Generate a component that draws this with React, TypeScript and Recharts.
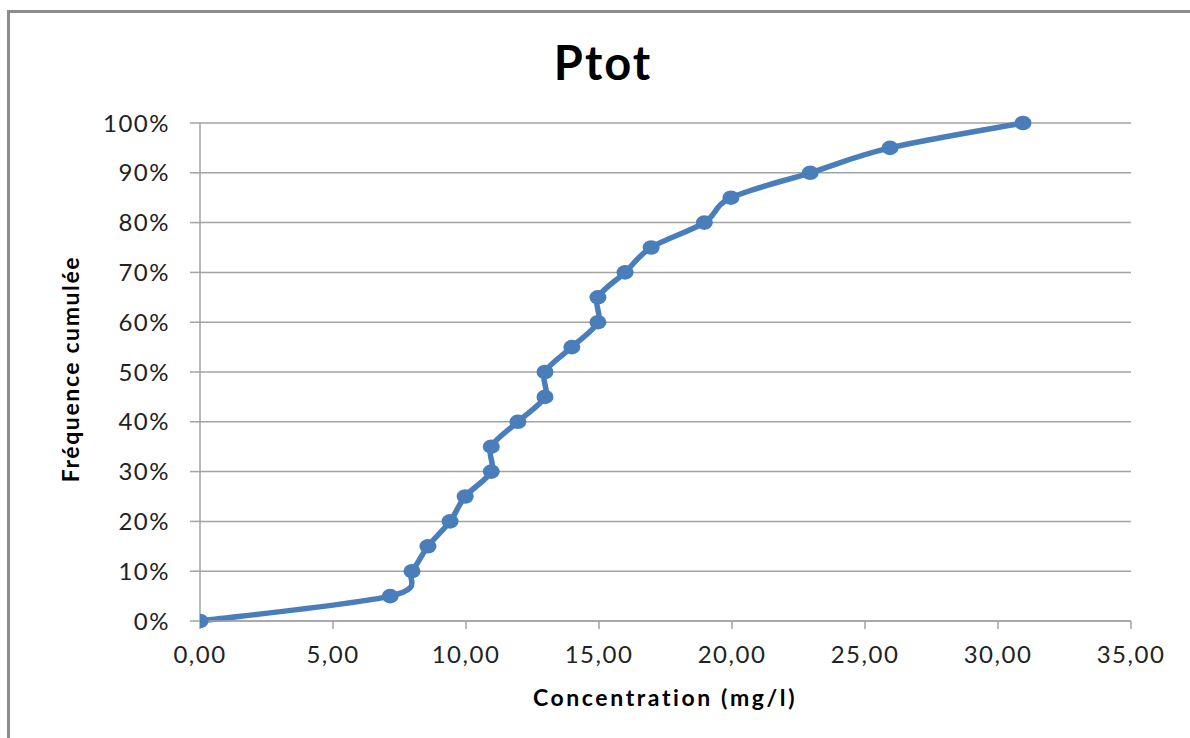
import React from "react";
import { LineChart, Line, XAxis, YAxis, CartesianGrid } from "recharts";

// Cumulative frequency of total phosphorus concentrations
const concentration = [
  0, 7.15, 7.97, 8.57, 9.4, 9.97, 10.95, 10.95, 11.95, 12.97, 12.97, 13.98,
  14.96, 14.96, 15.98, 16.96, 18.96, 19.96, 22.94, 25.94, 30.94,
];
const frequency = [
  0, 0.05, 0.1, 0.15, 0.2, 0.25, 0.3, 0.35, 0.4, 0.45, 0.5, 0.55, 0.6, 0.65,
  0.7, 0.75, 0.8, 0.85, 0.9, 0.95, 1.0,
];
const xTicks = [0, 5, 10, 15, 20, 25, 30, 35];
const yTicks = [0, 0.1, 0.2, 0.3, 0.4, 0.5, 0.6, 0.7, 0.8, 0.9, 1.0];

const data = concentration.map((c, i) => ({ c, f: frequency[i] }));

const FONT = "Lato, 'Open Sans', sans-serif";
const BLUE = "#4a7ebb";
const GRID = "#a3a3a3";

const fmtX = (v: number) => v.toFixed(2).replace(".", ",");
const fmtY = (v: number) => `${Math.round(v * 100)}%`;

// Smoothed line through every point (uniform Catmull-Rom as cubic Béziers)
function smoothCurve(context: any) {
  let pts: [number, number][] = [];
  return {
    areaStart() {},
    areaEnd() {},
    lineStart() {
      pts = [];
    },
    point(x: number, y: number) {
      pts.push([+x, +y]);
    },
    lineEnd() {
      const n = pts.length;
      if (!n) return;
      context.moveTo(pts[0][0], pts[0][1]);
      for (let i = 0; i < n - 1; i++) {
        const p0 = pts[i - 1] || pts[i];
        const p1 = pts[i];
        const p2 = pts[i + 1];
        const p3 = pts[i + 2] || pts[i + 1];
        const c1x = p1[0] + (p2[0] - p0[0]) / 6;
        const c1y = p1[1] + (p2[1] - p0[1]) / 6;
        const c2x = p2[0] - (p3[0] - p1[0]) / 6;
        const c2y = p2[1] - (p3[1] - p1[1]) / 6;
        context.bezierCurveTo(c1x, c1y, c2x, c2y, p2[0], p2[1]);
      }
    },
  };
}

// Slightly wide oval markers
const OvalDot = (props: any) => {
  const { cx, cy, index } = props;
  if (cx == null || cy == null) return null;
  return <ellipse key={`dot-${index}`} cx={cx} cy={cy} rx={8.5} ry={7.3} fill={BLUE} />;
};

export default function App() {
  return (
    <div
      style={{
        position: "absolute",
        left: 0,
        top: 0,
        width: 1190,
        height: 738,
        background: "#fff",
        overflow: "hidden",
        fontFamily: FONT,
      }}
    >
      <div
        style={{
          position: "absolute",
          left: 7,
          top: 10,
          right: -10,
          bottom: -10,
          borderTop: "3px solid #8c8c8c",
          borderLeft: "3px solid #8c8c8c",
        }}
      />
      <div
        style={{
          position: "absolute",
          left: 603,
          top: 62,
          transform: "translate(-50%, -50%)",
          fontSize: 47,
          fontWeight: 700,
          lineHeight: 1,
          letterSpacing: 2,
          color: "#000",
          whiteSpace: "nowrap",
        }}
      >
        Ptot
      </div>
      <div
        style={{
          position: "absolute",
          left: 665,
          top: 697,
          transform: "translate(-50%, -50%)",
          fontSize: 23,
          fontWeight: 700,
          lineHeight: 1,
          letterSpacing: 2.6,
          color: "#000",
          whiteSpace: "nowrap",
        }}
      >
        Concentration (mg/l)
      </div>
      <div
        style={{
          position: "absolute",
          left: 70,
          top: 369,
          transform: "translate(-50%, -50%) rotate(-90deg)",
          fontSize: 23,
          fontWeight: 700,
          lineHeight: 1,
          letterSpacing: 1.6,
          color: "#000",
          whiteSpace: "nowrap",
        }}
      >
        Fréquence cumulée
      </div>
      <div style={{ position: "absolute", left: 0, top: 0 }}>
        <LineChart
          width={1190}
          height={738}
          data={data}
          margin={{ top: 123, right: 59, bottom: 0, left: 0 }}
        >
          <CartesianGrid vertical={false} stroke={GRID} strokeWidth={1.5} />
          <XAxis
            dataKey="c"
            type="number"
            domain={[0, 35]}
            ticks={xTicks}
            tickFormatter={fmtX}
            height={117}
            tickSize={8}
            tickMargin={17}
            stroke={GRID}
            strokeWidth={1.5}
            interval={0}
            tick={{ fill: "#222", fontSize: 24, fontFamily: FONT, letterSpacing: 1.5 }}
            allowDataOverflow
          />
          <YAxis
            type="number"
            domain={[0, 1]}
            ticks={yTicks}
            tickFormatter={fmtY}
            width={200}
            tickSize={10}
            tickMargin={20}
            stroke={GRID}
            strokeWidth={1.5}
            interval={0}
            tick={{ fill: "#222", fontSize: 24, fontFamily: FONT, letterSpacing: 1.5 }}
          />
          <Line
            type={smoothCurve as any}
            dataKey="f"
            stroke={BLUE}
            strokeWidth={5.5}
            dot={OvalDot}
            activeDot={false}
            isAnimationActive={false}
          />
        </LineChart>
      </div>
    </div>
  );
}
